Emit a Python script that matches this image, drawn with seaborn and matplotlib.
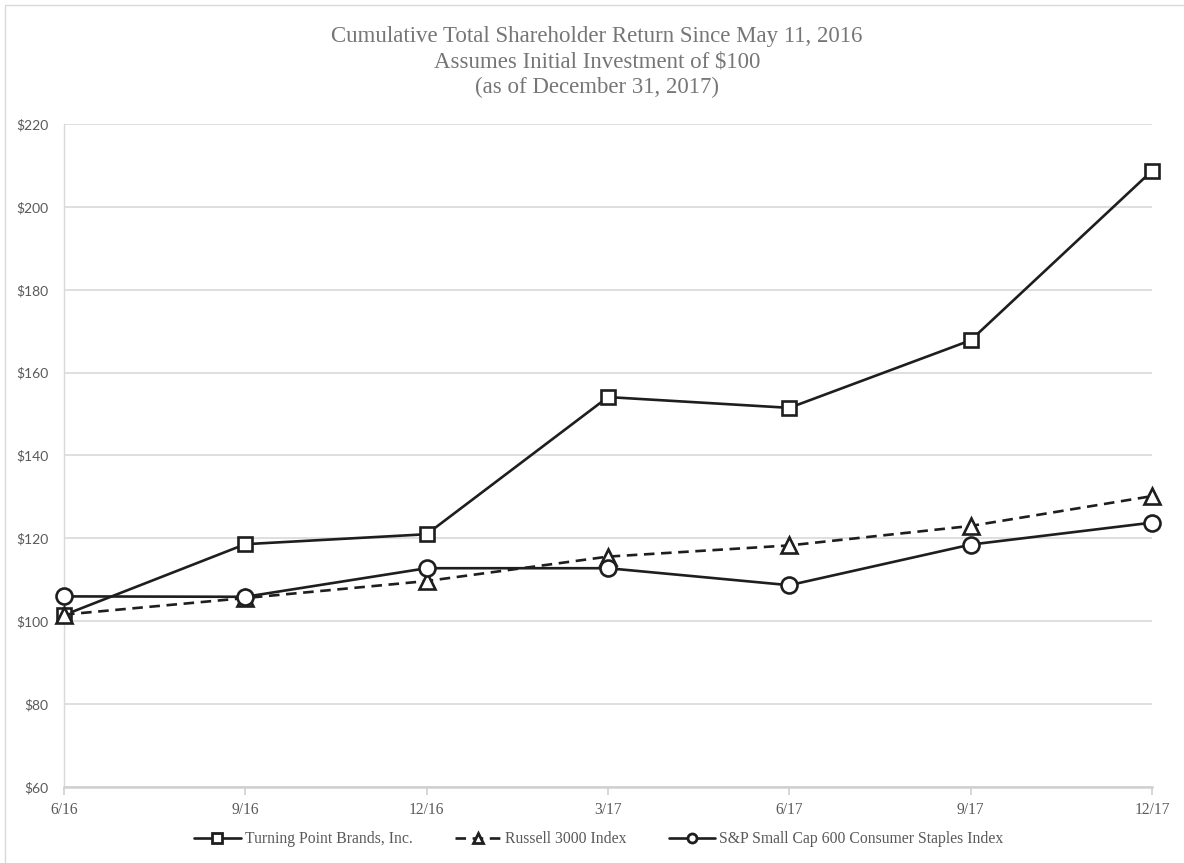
import matplotlib
matplotlib.use("Agg")
import matplotlib.pyplot as plt
import seaborn as sns
import pandas as pd
from matplotlib.patches import Rectangle

periods = ["6/16", "9/16", "12/16", "3/17", "6/17", "9/17", "12/17"]
tpb = [101.5, 118.6, 121.0, 154.1, 151.5, 167.8, 208.7]
russell = [101.6, 105.6, 109.7, 115.6, 118.3, 123.0, 130.2]
sp600 = [106.0, 105.9, 112.8, 112.8, 108.7, 118.5, 123.8]
series_names = ["Turning Point Brands, Inc.", "Russell 3000 Index",
                "S&P Small Cap 600 Consumer Staples Index"]
y_ticks = [60, 80, 100, 120, 140, 160, 180, 200, 220]

df = pd.DataFrame({
    "period": periods * 3,
    "x": list(range(len(periods))) * 3,
    "value": tpb + russell + sp600,
    "series": [series_names[0]] * 7 + [series_names[1]] * 7 + [series_names[2]] * 7,
})

sns.set_theme(style="white")
plt.rcParams["font.family"] = ["Liberation Serif", "DejaVu Serif"]

fig = plt.figure(figsize=(11.84, 8.63), dpi=100)
ax = fig.add_axes([64 / 1184, 1 - 787 / 863, (1152 - 64) / 1184, (787 - 124) / 863])

line_col = "#1e1e1e"
markers = {series_names[0]: "s", series_names[1]: "^", series_names[2]: "o"}
sizes = {series_names[0]: 10.5, series_names[1]: 11, series_names[2]: 11.5}
styles = {series_names[0]: "-", series_names[1]: (0, (4, 2.5)), series_names[2]: "-"}

handles = []
for name in series_names:
    sub = df[df["series"] == name]
    sns.lineplot(data=sub, x="x", y="value", ax=ax, color=line_col, lw=1.9,
                 marker=markers[name], markersize=sizes[name], markerfacecolor="white",
                 markeredgecolor=line_col, markeredgewidth=1.9, legend=False,
                 zorder=3)
    ln = ax.get_lines()[-1]
    ln.set_linestyle(styles[name])
    ln.set_clip_on(False)
    h, = ax.plot([], [], color=line_col, lw=1.9, linestyle=styles[name],
                 marker=markers[name], markersize=6.5, markerfacecolor="white",
                 markeredgecolor=line_col, markeredgewidth=2.0)
    handles.append(h)

ax.set_xlim(0, len(periods) - 1)
ax.set_ylim(60, 220)
ax.set_yticks(y_ticks)
ax.set_yticklabels([f"${v}" for v in y_ticks], fontfamily="Lato", fontsize=10,
                   color="#595959")
ax.set_xticks(range(len(periods)))
ax.set_xticklabels(periods, fontsize=11.2, color="#595959")
ax.set_xlabel("")
ax.set_ylabel("")
ax.grid(axis="y", color="#d9d9d9", lw=1.2)
ax.grid(axis="x", visible=False)
ax.set_axisbelow(True)
for s in ["top", "right"]:
    ax.spines[s].set_visible(False)
ax.spines["left"].set_color("#d9d9d9")
ax.spines["left"].set_linewidth(1.0)
ax.spines["bottom"].set_color("#d0d0d0")
ax.spines["bottom"].set_linewidth(1.8)
ax.tick_params(axis="x", which="major", direction="out", length=6, width=1.2,
               color="#d0d0d0", bottom=True, pad=5)
ax.tick_params(axis="y", which="major", length=0, pad=11)

fig.text(597 / 1184, 1 - 62 / 863, "Cumulative Total Shareholder Return Since May 11, 2016\n"
         "Assumes Initial Investment of $100\n(as of December 31, 2017)",
         ha="center", va="center", fontsize=16.5, color="#767676", linespacing=1.3)

fig.legend(handles, series_names, loc="center", bbox_to_anchor=(599 / 1184, 1 - 839 / 863),
           ncol=3, frameon=False, fontsize=11.3, handlelength=2.95, columnspacing=2.7,
           handletextpad=0.26, labelcolor="#595959")

fig.patches.append(Rectangle((5 / 1184, -0.1), 1.2, (1 - 5 / 863) + 0.1,
                             transform=fig.transFigure, fill=False,
                             edgecolor="#d9d9d9", lw=1.0, zorder=0))

fig.savefig("out.png", dpi=100)
